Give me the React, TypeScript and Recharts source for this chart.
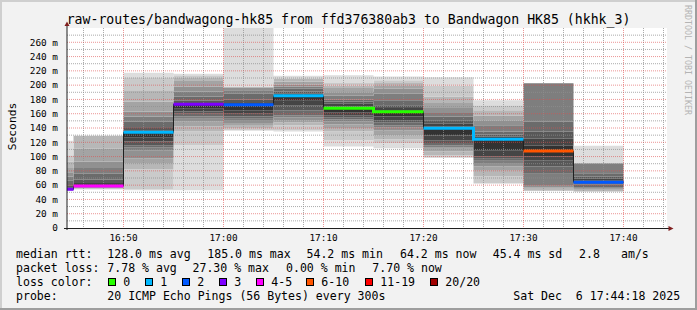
import { ComposedChart, Area, Line, XAxis, YAxis, CartesianGrid } from "recharts";

const W = 697;
const H = 310;
const PLOT = { left: 67, top: 28, right: 667, bottom: 228 };
const MONO = "'DejaVu Sans Mono', monospace";

// 5 minute steps, start of each interval
const starts = ["16:40", "16:45", "16:50", "16:55", "17:00", "17:05", "17:10", "17:15", "17:20", "17:25", "17:30", "17:35"];
const medians = [54.2, 58.8, 133.9, 173.3, 172.4, 185.0, 167.5, 162.9, 139.5, 124.1, 107.8, 64.2];
const lossBucket = ["3", "4-5", "1", "3", "2", "1", "0", "0", "1", "1", "6-10", "2"];

// sorted ping rtts (ms) of each interval
const ping1640 = [52, 52.5, 53, 53.3, 53.6, 53.8, 54, 54.1, 54.2, 54.4, 55, 57, 60, 66, 72, 78, 84, 93, 102, 122];
const ping1645 = [54, 54.5, 55, 55.5, 56, 56.5, 57, 57.3, 57.6, 58, 60, 63, 68, 76, 84, 93, 111, 129, 129, 129];
const ping1650 = [53, 54, 82, 90, 97.6, 109, 113, 116, 121, 127, 135, 137, 140, 149, 156, 163, 177, 193, 211, 217.5];
const ping1655 = [53, 116, 135, 142, 149, 153, 156, 160, 163, 167, 174, 175, 178, 184, 191, 198, 207, 211, 214, 216];
const ping1700 = [136, 137, 140, 143, 147, 150, 153, 156, 160, 165, 172, 175, 180, 188, 193, 196, 197, 197.5, 198, 280];
const ping1705 = [135, 137, 144, 148, 151, 155, 158, 165, 172, 178, 186, 188, 191, 195, 198, 201, 205, 209, 211, 213];
const ping1710 = [114, 123, 135, 140, 145, 149, 152, 155, 158, 162, 170, 174, 177, 180, 185, 190, 196, 199, 203, 214];
const ping1715 = [111.5, 118.5, 124, 130, 137, 141, 144, 148, 151, 156, 165, 168, 172, 179, 188, 195, 200, 203, 207, 212];
const ping1720 = [98, 99, 102, 107, 111, 113, 116, 119, 123, 130, 142, 146, 151, 156, 161, 168, 175, 184, 199, 211];
const ping1725 = [62, 63, 72, 80, 86, 90, 94, 97, 100, 109, 125, 128, 131, 135, 144, 150, 157, 165, 172, 179];
const ping1730 = [52, 52, 52, 55, 57, 59, 76, 86, 95, 100, 115, 125, 135, 149, 202.5, 202.5, 202.5, 202.5, 202.5, 202.5];
const ping1735 = [51, 51, 51, 52, 54, 55.5, 57, 61, 62, 63, 66, 69, 72, 76.5, 90.5, 90.5, 90.5, 90.5, 90.5, 115];

const smoke = [ping1640, ping1645, ping1650, ping1655, ping1700, ping1705, ping1710, ping1715, ping1720, ping1725, ping1730, ping1735];

const lossLabels = ["0", "1", "2", "3", "4-5", "6-10", "11-19", "20/20"];
const lossColors = ["#26ff00", "#00b8ff", "#0059ff", "#7e00ff", "#ff00ff", "#ff5500", "#ff0000", "#a00000"];
const smokeGreys = ["#dddddd", "#cacaca", "#b7b7b7", "#a4a4a4", "#919191", "#7e7e7e", "#6b6b6b", "#585858", "#454545", "#323232"];

const xTicks = ["16:50", "17:00", "17:10", "17:20", "17:30", "17:40"];
const yTicks = [0, 20, 40, 60, 80, 100, 120, 140, 160, 180, 200, 220, 240, 260];

const rttStats: [number, string][] = [
  [16, "median rtt:"], [107.3, "128.0 ms avg"], [207.3, "185.0 ms max"], [306.5, "54.2 ms min"],
  [400, "64.2 ms now"], [492.7, "45.4 ms sd"], [579, "2.8"], [621, "am/s"],
];
const lossStats: [number, string][] = [
  [16, "packet loss:"], [107.3, "7.78 % avg"], [192.5, "27.30 % max"], [286, "0.00 % min"], [372.3, "7.70 % now"],
];
const probeLine: [number, string][] = [
  [16, "probe:"], [107.3, "20 ICMP Echo Pings (56 Bytes) every 300s"], [513.3, "Sat Dec \u00a06 17:44:18 2025"],
];
const legendBoxX = [108.5, 145.5, 182.5, 219.5, 256.5, 306.5, 365.5, 430.5];

const toMin = (s: string) => {
  const [h, m] = s.split(":").map(Number);
  return h * 60 + m;
};
const fmt = (v: number) => `${Math.floor(v / 60)}:${String(v % 60).padStart(2, "0")}`;

const rows: any[] = [];
starts.forEach((s, k) => {
  const p = smoke[k];
  const row: any = { b0: p[0], median: medians[k] };
  for (let j = 1; j < 20; j++) row["s" + j] = p[j] - p[j - 1];
  lossLabels.forEach((l, i) => (row["l" + i] = lossBucket[k] === l ? medians[k] : null));
  const t0 = toMin(s);
  rows.push({ t: t0, ...row }, { t: t0 + 5, ...row });
});

const bands = Array.from({ length: 19 }, (_, i) => i + 1);
const xDomain = [toMin("16:44") + 0.35, toMin("17:44") + 0.35];
const yMax = 280;

const minorV: number[] = [];
for (let t = toMin("16:46"); t < xDomain[1]; t += 2) if (t % 10 !== 0) minorV.push(t);
const majorV = xTicks.map(toMin);
const minorH = [10, 30, 50, 70, 90, 110, 130, 150, 170, 190, 210, 230, 250, 270];
const majorH = yTicks.filter((v) => v > 0);

// grid line pixel positions (same linear mapping as the axes)
const gridY = (vals: number[]) => () =>
  vals.map((v) => PLOT.bottom - ((PLOT.bottom - PLOT.top) * v) / yMax);
const gridX = (vals: number[]) => () =>
  vals.map((v) => PLOT.left + ((PLOT.right - PLOT.left) * (v - xDomain[0])) / (xDomain[1] - xDomain[0]));

export default function App() {
  const tickStyle = { fontSize: 9.4, fill: "#000", fontFamily: MONO };
  return (
    <div style={{ position: "absolute", left: 0, top: 0, width: W, height: H, background: "#f2f2f2" }}>
      <ComposedChart
        width={W}
        height={H}
        data={rows}
        margin={{ top: PLOT.top, right: W - PLOT.right, bottom: H - PLOT.bottom - 20, left: PLOT.left - 59 }}
      >
        <CartesianGrid fill="#ffffff" horizontal={false} vertical={false} />
        <XAxis
          dataKey="t"
          type="number"
          domain={xDomain}
          allowDataOverflow
          ticks={majorV}
          interval={0}
          tickFormatter={fmt}
          height={20}
          axisLine={false}
          tickLine={false}
          tickSize={0}
          tickMargin={6}
          tick={tickStyle}
        />
        <YAxis
          type="number"
          domain={[0, yMax]}
          allowDataOverflow
          ticks={yTicks}
          interval={0}
          tickFormatter={(v: number) => (v === 0 ? "0" : `${v} m`)}
          width={59}
          axisLine={false}
          tickLine={false}
          tickSize={0}
          tickMargin={9}
          tick={tickStyle}
        />
        <Area dataKey="b0" stackId="smoke" type="linear" stroke="none" fill="none" isAnimationActive={false} />
        {bands.map((j) => (
          <Area
            key={j}
            dataKey={"s" + j}
            stackId="smoke"
            type="linear"
            stroke="none"
            fill={smokeGreys[Math.min(j, 20 - j) - 1]}
            fillOpacity={1}
            isAnimationActive={false}
          />
        ))}
        <CartesianGrid
          zIndex={150}
          horizontalCoordinatesGenerator={gridY(minorH)}
          verticalCoordinatesGenerator={gridX(minorV)}
          stroke="rgba(143,143,143,0.75)"
          strokeDasharray="1 1"
        />
        <CartesianGrid
          zIndex={150}
          horizontalCoordinatesGenerator={gridY(majorH)}
          verticalCoordinatesGenerator={gridX(majorV)}
          stroke="rgba(222,79,79,0.6)"
          strokeDasharray="1 1"
        />
        <Line dataKey="median" type="linear" stroke="#202020" strokeWidth={1} dot={false} activeDot={false} isAnimationActive={false} />
        {lossLabels.map((l, i) => (
          <Line
            key={l}
            dataKey={"l" + i}
            type="linear"
            stroke={lossColors[i]}
            strokeWidth={3}
            dot={false}
            activeDot={false}
            isAnimationActive={false}
          />
        ))}
      </ComposedChart>

      <svg width={W} height={H} style={{ position: "absolute", left: 0, top: 0, pointerEvents: "none" }}>
        <rect x={0} y={0} width={W} height={2} fill="#cfcfcf" />
        <rect x={0} y={0} width={2} height={H} fill="#cfcfcf" />
        <rect x={0} y={H - 2} width={W} height={2} fill="#9e9e9e" />
        <rect x={W - 2} y={0} width={2} height={H} fill="#9e9e9e" />

        <line x1={PLOT.left} y1={PLOT.bottom + 2} x2={PLOT.left} y2={PLOT.top - 3} stroke="#1f1f1f" />
        <line x1={PLOT.left - 3} y1={PLOT.bottom + 0.5} x2={PLOT.right + 3} y2={PLOT.bottom + 0.5} stroke="#1f1f1f" />
        <polygon points={`${PLOT.left - 2.5},${PLOT.top - 2} ${PLOT.left + 2.5},${PLOT.top - 2} ${PLOT.left},${PLOT.top - 6.5}`} fill="#801f1f" />
        <polygon
          points={`${PLOT.right + 1.5},${PLOT.bottom - 2} ${PLOT.right + 1.5},${PLOT.bottom + 3} ${PLOT.right + 6.5},${PLOT.bottom + 0.5}`}
          fill="#801f1f"
        />

        <g fontFamily={MONO} fill="#000">
          <text x={348.5} y={24} fontSize={13.2} textAnchor="middle">
            raw-routes/bandwagong-hk85 from ffd376380ab3 to Bandwagon HK85 (hkhk_3)
          </text>
          <text transform="translate(15.5 126.5) rotate(-90)" fontSize={11.3} textAnchor="middle">
            Seconds
          </text>
          <text transform="translate(685 60) rotate(90)" fontSize={8.3} textAnchor="middle" fill="#b4b4b4">
            RRDTOOL / TOBI OETIKER
          </text>

          <g fontSize={11.55}>
            {rttStats.map(([x, s]) => (
              <text key={"r" + x} x={x} y={258}>{s}</text>
            ))}
            {lossStats.map(([x, s]) => (
              <text key={"p" + x} x={x} y={272}>{s}</text>
            ))}
            <text x={16} y={286}>loss color:</text>
            {lossLabels.map((l, i) => (
              <g key={l}>
                <rect x={legendBoxX[i]} y={278.5} width={7} height={7} fill={lossColors[i]} stroke="#000" />
                <text x={legendBoxX[i] + 14.8} y={286}>{l}</text>
              </g>
            ))}
            {probeLine.map(([x, s]) => (
              <text key={"q" + x} x={x} y={300}>{s}</text>
            ))}
          </g>
        </g>
      </svg>
    </div>
  );
}
